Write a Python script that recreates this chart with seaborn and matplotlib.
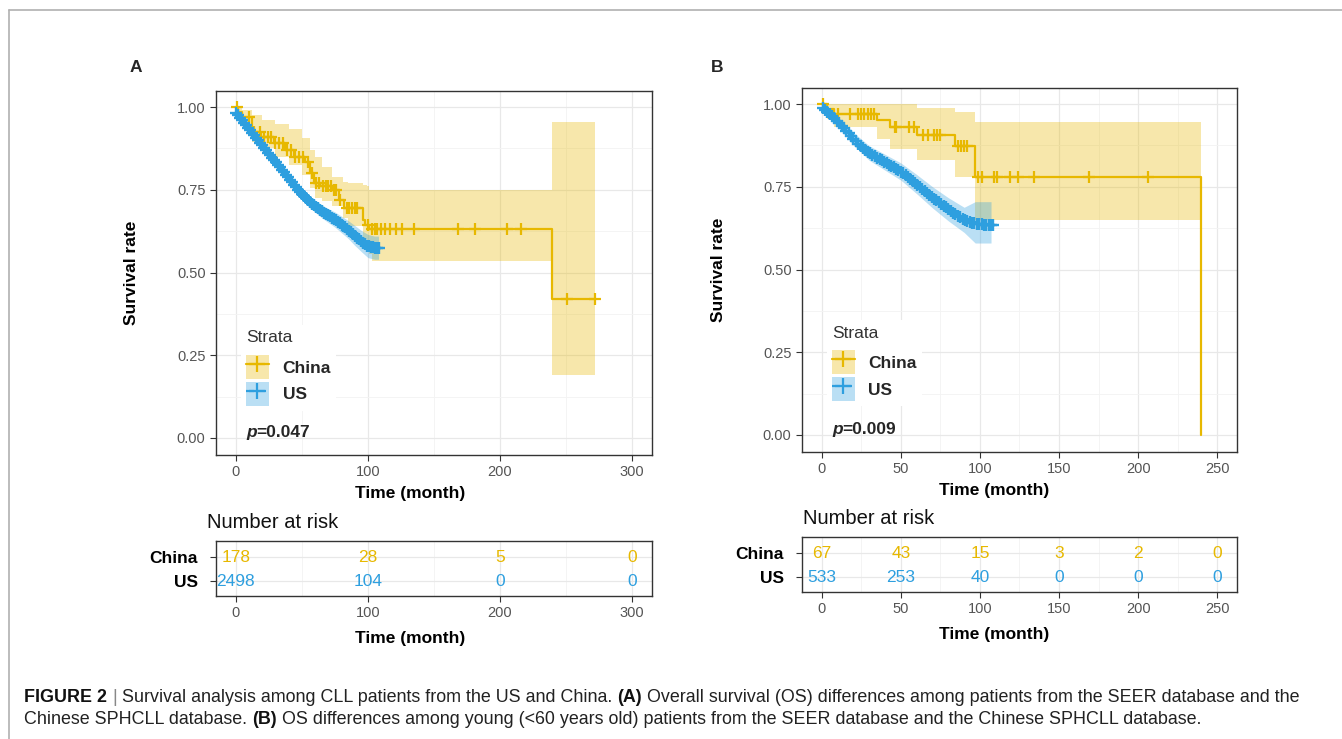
import numpy as np
import matplotlib
matplotlib.use("Agg")
import matplotlib.pyplot as plt
import seaborn as sns
from matplotlib.lines import Line2D
from matplotlib.patches import Patch
from matplotlib.legend_handler import HandlerTuple
from matplotlib.ticker import MultipleLocator, FormatStrFormatter

# ---------------- data ----------------
strata = ["China", "US"]

# Panel A: all patients
A_china_time = [0, 2, 5, 12, 19, 29, 37, 44, 52, 56, 59, 64, 73, 78, 82, 96, 98, 101, 239, 272]
A_china_surv = [1.0, 0.985, 0.97, 0.925, 0.91, 0.89, 0.87, 0.85, 0.835, 0.80, 0.77, 0.76, 0.75, 0.72, 0.695, 0.66, 0.645, 0.632, 0.42, 0.42]
A_china_ci_time = [0, 5, 12, 20, 30, 40, 50, 56, 60, 65, 73, 81, 85, 96, 99, 101, 103, 239, 272]
A_china_ci_low = [0.975, 0.945, 0.895, 0.875, 0.85, 0.825, 0.795, 0.755, 0.725, 0.715, 0.70, 0.665, 0.64, 0.60, 0.575, 0.555, 0.535, 0.19, 0.19]
A_china_ci_high = [1.0, 0.99, 0.975, 0.96, 0.95, 0.935, 0.905, 0.87, 0.85, 0.82, 0.79, 0.775, 0.77, 0.763, 0.76, 0.75, 0.75, 0.955, 0.955]
A_china_cens = [1, 10, 14, 18, 21, 24, 27, 30, 33, 36, 39, 42, 45, 48, 51, 55, 58, 61, 63, 66, 68,
                70, 72, 74, 76, 79, 84, 86, 88, 90, 92, 100, 103, 105, 107, 110, 113, 117, 121,
                126, 135, 168, 181, 205, 216, 251, 272]

A_us_time = [0, 5, 10, 15, 20, 25, 30, 35, 40, 45, 50, 55, 60, 65, 70, 75, 80, 85, 90, 95, 100, 105, 108]
A_us_surv = [0.985, 0.96, 0.935, 0.91, 0.885, 0.86, 0.835, 0.81, 0.785, 0.76, 0.737, 0.717, 0.70,
             0.685, 0.672, 0.66, 0.645, 0.63, 0.612, 0.595, 0.58, 0.575, 0.575]
A_us_ci_low = [0.98, 0.953, 0.927, 0.901, 0.875, 0.849, 0.823, 0.797, 0.771, 0.745, 0.721, 0.70, 0.682,
               0.665, 0.651, 0.637, 0.62, 0.603, 0.582, 0.563, 0.545, 0.54, 0.54]
A_us_ci_high = [0.99, 0.967, 0.943, 0.919, 0.895, 0.871, 0.847, 0.823, 0.799, 0.775, 0.753, 0.734, 0.718,
                0.705, 0.693, 0.683, 0.67, 0.657, 0.642, 0.627, 0.615, 0.61, 0.61]
A_us_cens = [0.5, 2, 3.5, 5, 6.5, 8, 9.5, 11, 12.5, 14, 15.5, 17, 18.5, 20, 21.5, 23, 24.5, 26, 27.5, 29,
             30.5, 32, 33.5, 35, 36.5, 38, 39.5, 41, 42.5, 44, 45.5, 47, 48.5, 50, 51.5, 53, 54.5, 56,
             57.5, 59, 60.5, 62, 63.5, 65, 66.5, 68, 69.5, 71, 72.5, 74, 75.5, 77, 78.5, 80, 81.5, 83,
             84.5, 86, 87.5, 89, 90.5, 92, 93.5, 95, 96.5, 98, 99.5, 101, 102.5, 104, 105.5, 107, 108]

A_risk_time = [0, 100, 200, 300]
A_risk_china = [178, 28, 5, 0]
A_risk_us = [2498, 104, 0, 0]
A_pval = "0.047"

# Panel B: young (<60 years) patients
B_china_time = [0, 3, 8, 35, 43, 60, 84, 97, 240]
B_china_surv = [1.0, 0.985, 0.97, 0.952, 0.93, 0.905, 0.873, 0.78, 0.0]
B_china_ci_time = [0, 3, 8, 35, 43, 60, 84, 97, 240]
B_china_ci_low = [1.0, 0.955, 0.93, 0.893, 0.863, 0.83, 0.78, 0.65, 0.65]
B_china_ci_high = [1.0, 1.0, 1.0, 1.0, 1.0, 0.987, 0.977, 0.946, 0.946]
B_china_cens = [0.5, 10, 18, 23, 25, 27, 29, 31, 33, 46, 47, 55, 58, 64, 67, 71, 73, 75, 86, 88, 90, 92,
                99, 101, 109, 111, 119, 124, 134, 169, 206]

B_us_time = [0, 5, 10, 15, 20, 25, 30, 35, 40, 45, 50, 55, 60, 65, 70, 75, 80, 85, 90, 95, 100, 104, 108]
B_us_surv = [0.99, 0.97, 0.948, 0.922, 0.895, 0.87, 0.852, 0.838, 0.824, 0.81, 0.796, 0.778, 0.758,
             0.737, 0.718, 0.70, 0.682, 0.665, 0.65, 0.64, 0.637, 0.635, 0.635]
B_us_ci_time = [0, 10, 20, 30, 40, 50, 60, 70, 80, 90, 97, 107]
B_us_ci_low = [0.98, 0.933, 0.876, 0.83, 0.80, 0.77, 0.729, 0.686, 0.647, 0.612, 0.58, 0.58]
B_us_ci_high = [1.0, 0.963, 0.914, 0.874, 0.848, 0.822, 0.787, 0.75, 0.717, 0.688, 0.705, 0.705]
B_us_cens = [0.5, 2, 3.5, 5, 6.5, 8, 9.5, 11, 12.5, 14, 15.5, 17, 18.5, 20, 21.5, 23, 24.5, 26, 27.5, 29,
             30.5, 32, 33.5, 35, 36.5, 38, 39.5, 41, 42.5, 44, 45.5, 47, 48.5, 50, 51.5, 53, 54.5, 56,
             57.5, 59, 60.5, 62, 63.5, 65, 66.5, 68, 69.5, 71, 72.5, 74, 75.5, 77, 78.5, 80, 81.5, 83,
             84.5, 86, 87.5, 89, 90.5, 92, 93.5, 95, 96.5, 98, 99.5, 101, 102.5, 104, 105.5, 107, 108]

B_risk_time = [0, 50, 100, 150, 200, 250]
B_risk_china = [67, 43, 15, 3, 2, 0]
B_risk_us = [533, 253, 40, 0, 0, 0]
B_pval = "0.009"

YEL = "#E7B800"
BLU = "#2E9FDF"
BAND_ALPHA = 0.33

# ---------------- figure ----------------
sns.set_theme(style="white")
plt.rcParams["font.family"] = ["Liberation Sans", "DejaVu Sans"]

W, H = 1342, 739
fig = plt.figure(figsize=(W / 100, H / 100), dpi=100)
fig.patch.set_facecolor("white")
R = fig.canvas.get_renderer()


def px_axes(l, t, r, b):
    return fig.add_axes([l / W, 1 - b / H, (r - l) / W, (b - t) / H])


def style_axes(ax, xlim, xmajor, xminor):
    ax.set_facecolor("white")
    ax.set_xlim(*xlim)
    ax.xaxis.set_major_locator(MultipleLocator(xmajor))
    ax.xaxis.set_minor_locator(MultipleLocator(xminor))
    for sp in ax.spines.values():
        sp.set_visible(True)
        sp.set_color("#333333")
        sp.set_linewidth(1.0)
    ax.tick_params(which="major", length=4, width=0.8, color="#333333",
                   labelcolor="#555555", labelsize=10.5, bottom=True, left=True)
    ax.tick_params(which="minor", length=0)
    ax.grid(which="major", color="#E8E8E8", lw=0.9)
    ax.grid(which="minor", color="#F3F3F3", lw=0.6)
    ax.set_axisbelow(True)


def step_value(t, s, x):
    idx = np.searchsorted(np.asarray(t), np.asarray(x), side="right") - 1
    return np.asarray(s)[np.clip(idx, 0, len(s) - 1)]


def km_panel(box, xlim, xmajor, d, pval, leg_anchor, xlab_x):
    ax = px_axes(*box)
    style_axes(ax, xlim, xmajor, xmajor / 2)
    ax.set_ylim(-0.05, 1.05)
    ax.yaxis.set_major_locator(MultipleLocator(0.25))
    ax.yaxis.set_minor_locator(MultipleLocator(0.125))
    ax.yaxis.set_major_formatter(FormatStrFormatter("%.2f"))

    # confidence bands
    ax.fill_between(d["c_ci_t"], d["c_lo"], d["c_hi"], step="post", color=YEL, alpha=BAND_ALPHA, lw=0, zorder=1)
    ax.fill_between(d["u_ci_t"], d["u_lo"], d["u_hi"], color=BLU, alpha=BAND_ALPHA, lw=0, zorder=1)

    # survival curves
    sns.lineplot(x=d["c_t"], y=d["c_s"], ax=ax, color=YEL, lw=1.6, drawstyle="steps-post",
                 estimator=None, sort=False, legend=False, zorder=3)
    sns.lineplot(x=d["u_t"], y=d["u_s"], ax=ax, color=BLU, lw=1.6, linestyle="--",
                 estimator=None, sort=False, legend=False, zorder=3)

    # censor marks
    cy = step_value(d["c_t"], d["c_s"], d["c_cens"])
    uy = np.interp(d["u_cens"], d["u_t"], d["u_s"])
    sns.scatterplot(x=d["c_cens"], y=cy, ax=ax, marker="+", s=75, color=YEL, linewidth=1.6,
                    legend=False, zorder=4)
    sns.scatterplot(x=d["u_cens"], y=uy, ax=ax, marker="+", s=80, color=BLU, linewidth=1.7,
                    legend=False, zorder=5)

    ax.set_xlabel("Time (month)", fontsize=12.5, fontweight="bold", color="black")
    ax.set_ylabel("Survival rate", fontsize=12.5, fontweight="bold", color="black")
    ax.xaxis.label.set_va("center")
    ax.yaxis.label.set_va("center")
    ax.xaxis.set_label_coords(xlab_x, -0.108)
    ax.yaxis.set_label_coords(-0.193, 0.5)

    handles = [
        (Patch(facecolor=YEL, alpha=BAND_ALPHA, lw=0),
         Line2D([], [], color=YEL, lw=1.6, marker="+", ms=11, mew=1.6)),
        (Patch(facecolor=BLU, alpha=BAND_ALPHA, lw=0),
         Line2D([], [], color=BLU, lw=1.6, ls="--", marker="+", ms=11, mew=1.6)),
    ]
    leg = ax.legend(handles, strata, title="Strata", loc="upper left", bbox_to_anchor=leg_anchor,
                    handler_map={tuple: HandlerTuple(ndivide=1, pad=0)},
                    frameon=True, facecolor="white", edgecolor="none", framealpha=1,
                    handlelength=1.3, handleheight=1.75, handletextpad=0.8, labelspacing=0.15,
                    borderpad=0.3, borderaxespad=0, alignment="left",
                    prop=dict(weight="bold", size=12.5), title_fontsize=12.5)
    leg.get_title().set_color("#333333")
    leg._legend_box.sep = 7
    leg.set_zorder(6)

    # p-value with italic p
    px = leg_anchor[0] + 0.012
    t1 = ax.text(px, 0.06, "p", transform=ax.transAxes, fontsize=12.5, fontweight="bold",
                 fontstyle="italic", va="center", ha="left", zorder=7)
    wpx = t1.get_window_extent(renderer=R).width
    ax.text(px + wpx / (box[2] - box[0]), 0.06, "=" + pval, transform=ax.transAxes, fontsize=12.5,
            fontweight="bold", va="center", ha="left", zorder=7)
    return ax


def risk_table(box, xlim, xmajor, times, china, us, xlab_x, title_xy):
    ax = px_axes(*box)
    style_axes(ax, xlim, xmajor, xmajor / 2)
    ax.set_ylim(-0.625, 1.667)
    ax.set_yticks([1, 0])
    ax.set_yticklabels(strata, fontsize=12.5, fontweight="bold", color="black")
    ax.tick_params(axis="y", pad=9, labelcolor="black")
    ax.yaxis.set_minor_locator(plt.NullLocator())
    for t, n in zip(times, china):
        ax.text(t, 1, str(n), ha="center", va="center", color=YEL, fontsize=12.5)
    for t, n in zip(times, us):
        ax.text(t, 0, str(n), ha="center", va="center", color=BLU, fontsize=12.5)
    ax.set_xlabel("Time (month)", fontsize=12.5, fontweight="bold", color="black")
    ax.xaxis.label.set_va("center")
    hbox = box[3] - box[1]
    ax.xaxis.set_label_coords(xlab_x, -(42 / hbox))
    fig.text(title_xy[0] / W, 1 - title_xy[1] / H, "Number at risk", fontsize=14.5,
             color="#111111", va="center", ha="left")
    return ax


dA = dict(c_t=A_china_time, c_s=A_china_surv, c_ci_t=A_china_ci_time, c_lo=A_china_ci_low,
          c_hi=A_china_ci_high, c_cens=A_china_cens, u_t=A_us_time, u_s=A_us_surv,
          u_ci_t=A_us_time, u_lo=A_us_ci_low, u_hi=A_us_ci_high, u_cens=A_us_cens)
dB = dict(c_t=B_china_time, c_s=B_china_surv, c_ci_t=B_china_ci_time, c_lo=B_china_ci_low,
          c_hi=B_china_ci_high, c_cens=B_china_cens, u_t=B_us_time, u_s=B_us_surv,
          u_ci_t=B_us_ci_time, u_lo=B_us_ci_low, u_hi=B_us_ci_high, u_cens=B_us_cens)

km_panel((216, 90.5, 652, 454.5), (-15, 315), 100, dA, A_pval, (0.057, 0.355), 0.445)
km_panel((802, 87.5, 1237, 451.5), (-12.5, 262.5), 50, dB, B_pval, (0.057, 0.36), 0.442)
risk_table((216, 541, 652, 596), (-15, 315), 100, A_risk_time, A_risk_china, A_risk_us, 0.445, (207, 523))
risk_table((802, 537, 1237, 592), (-12.5, 262.5), 50, B_risk_time, B_risk_china, B_risk_us, 0.442, (803, 518))

# panel letters
fig.text(130 / W, 1 - 67 / H, "A", fontsize=12.5, fontweight="bold", va="center", ha="left")
fig.text(711 / W, 1 - 67 / H, "B", fontsize=12.5, fontweight="bold", va="center", ha="left")

# page frame lines
fig.add_artist(Line2D([9 / W, 1.0], [1 - 10 / H, 1 - 10 / H], transform=fig.transFigure,
                      color="#B0B0B0", lw=1.2))
fig.add_artist(Line2D([9 / W, 9 / W], [1 - 10 / H, 0.0], transform=fig.transFigure,
                      color="#B0B0B0", lw=1.2))

# caption
cap1 = [("FIGURE 2", "bold", "#111111"), (" | ", "normal", "#888888"),
        ("Survival analysis among CLL patients from the US and China. ", "normal", "#222222"),
        ("(A)", "bold", "#111111"),
        (" Overall survival (OS) differences among patients from the SEER database and the", "normal", "#222222")]
cap2 = [("Chinese SPHCLL database. ", "normal", "#222222"), ("(B)", "bold", "#111111"),
        (" OS differences among young (<60 years old) patients from the SEER database and the Chinese SPHCLL database.",
         "normal", "#222222")]


def measure(s, size, weight):
    t = fig.text(0, 0, s, fontsize=size, fontweight=weight)
    w = t.get_window_extent(renderer=R).width
    t.remove()
    return w


def run_width(runs, size):
    sp = measure("a a", size, "normal") - measure("aa", size, "normal")
    total = 0.0
    for s, wgt, _ in runs:
        lead = len(s) - len(s.lstrip(" "))
        trail = len(s) - len(s.rstrip(" "))
        core = s.strip(" ")
        total += (lead + trail) * sp + (measure(core, size, wgt) if core else 0)
    return total, sp


base = 12.0
w0, _ = run_width(cap1, base)
cap_size = base * 1277.0 / w0


def draw_runs(runs, x, y, size):
    sp = measure("a a", size, "normal") - measure("aa", size, "normal")
    for s, wgt, col in runs:
        lead = len(s) - len(s.lstrip(" "))
        trail = len(s) - len(s.rstrip(" "))
        core = s.strip(" ")
        x += lead * sp
        if core:
            t = fig.text(x / W, 1 - y / H, core, fontsize=size, fontweight=wgt, color=col,
                         va="center", ha="left")
            x += t.get_window_extent(renderer=R).width
        x += trail * sp


draw_runs(cap1, 24, 697, cap_size)
draw_runs(cap2, 24, 720, cap_size)

fig.savefig("out.png", dpi=100, facecolor="white")
